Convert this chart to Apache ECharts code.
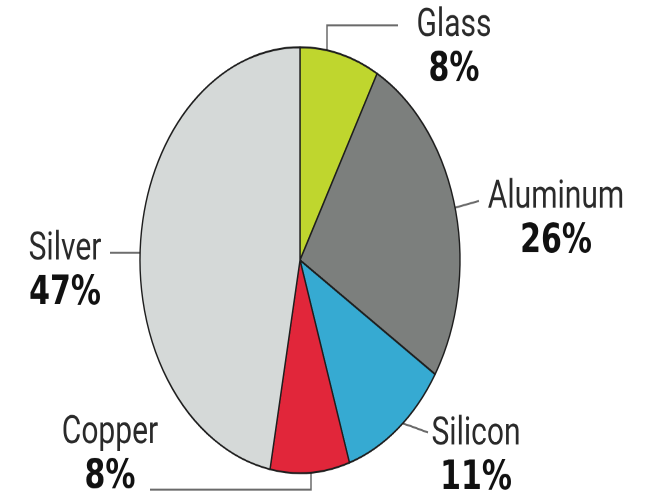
<!DOCTYPE html>
<html>
<head>
<meta charset="utf-8">
<script src="https://cdn.jsdelivr.net/npm/echarts@6/dist/echarts.min.js"></script>
<style>
  html, body { margin: 0; padding: 0; background: #fff; width: 646px; height: 499px; overflow: hidden; }
  /* The graphic is drawn as a round pie and stretched vertically into an oval */
  #chart { width: 646px; height: 375px; transform: scaleY(1.3307); transform-origin: 0 0; }
</style>
</head>
<body>
<div id="chart"></div>
<script>
// Material share (%), clockwise from 12 o'clock
const materials = ['Glass', 'Aluminum', 'Silicon', 'Copper', 'Silver'];
const shares = [8, 26, 11, 8, 47];
const sliceColors = ['#bfd62e', '#7c7f7d', '#36aad2', '#e1263a', '#d5d9d8'];

// Label block centres and leader lines (chart pixels, before the vertical stretch)
const labelSpots = [
  { x: 454, y: 36,  line: [[327, 46], [327, 19], [398, 19]] },
  { x: 556, y: 165, line: [[442, 159], [460, 155], [479, 151]] },
  { x: 476, y: 343, line: [[393, 316], [410, 320], [428, 325]] },
  { x: 110, y: 342, line: [[311, 329], [311, 368], [150, 368]] },
  { x: 65,  y: 204, line: [[152, 190], [131, 190], [110, 190]] }
];

const chart = echarts.init(document.getElementById('chart'), null, { renderer: 'canvas', devicePixelRatio: 2 });

chart.setOption({
  animation: false,
  backgroundColor: '#ffffff',
  series: [{
    type: 'pie',
    center: [300, 195.5],
    radius: [0, 160],
    startAngle: 90,
    clockwise: true,
    avoidLabelOverlap: false,
    silent: true,
    data: materials.map((name, i) => ({
      name: name,
      value: shares[i],
      itemStyle: { color: sliceColors[i] }
    })),
    itemStyle: { borderColor: '#1e1e1e', borderWidth: 1.4 },
    label: {
      show: true,
      position: 'outside',
      formatter: '{n|{b}}\n{p|{c}%}',
      rich: {
        n: { fontFamily: 'Roboto', fontSize: 30, lineHeight: 33, color: '#2a2a2a', align: 'center' },
        p: { fontFamily: 'DejaVu Sans', fontWeight: 'bold', fontSize: 30, lineHeight: 33, color: '#111', align: 'center' }
      }
    },
    labelLine: {
      show: true,
      lineStyle: { color: '#6a6a6a', width: 1.5 }
    },
    labelLayout: function (params) {
      const s = labelSpots[params.dataIndex];
      return {
        x: s.x,
        y: s.y,
        align: 'center',
        verticalAlign: 'middle',
        labelLinePoints: s.line
      };
    }
  }]
});
</script>
</body>
</html>
